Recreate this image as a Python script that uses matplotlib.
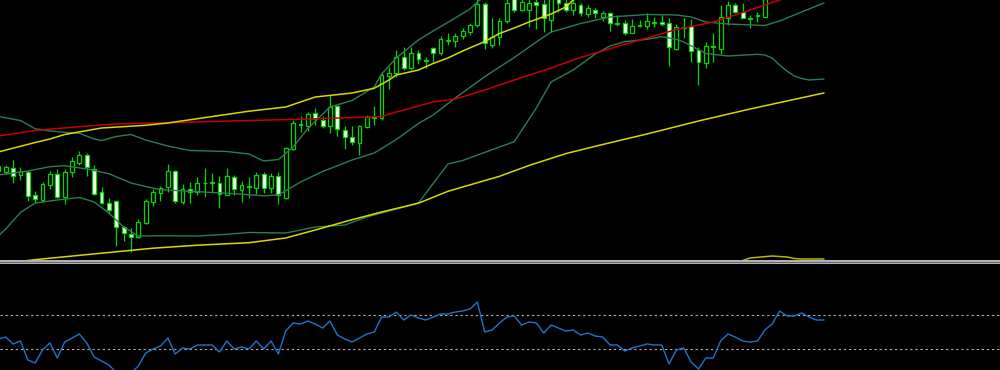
import matplotlib
matplotlib.use("Agg")
import matplotlib.pyplot as plt
from matplotlib.patches import Rectangle
from matplotlib.lines import Line2D

# ---------------- data ----------------
first_bar = -1
opens = [89.5, 88.3, 91.7, 84.7, 88.3, 64.7, 60, 75.3, 86, 63.3, 88.3, 96.7, 105.3, 91.3, 67.7, 57.3,
         59.3, 33.3, 26, 23.3, 36.7, 58.3, 67.3, 72.7, 89.3, 58.3, 71, 67.7, 77.5, 77.3, 76.7, 65,
         83.3, 70, 73.8, 72.3, 85.7, 71.7, 84, 61.7, 110.7, 134.7, 134, 146.7, 140, 134, 154, 130,
         123.3, 117.3, 133.3, 141.7, 141.7, 184, 186.7, 203.3, 191.7, 207.3, 200.5, 211.7, 206.7, 219.3,
         219.3, 224, 228.3, 235, 256, 215, 223.3, 239.3, 262, 250, 250, 258.3, 256, 240,
         264, 256.7, 250, 255, 246, 250, 243.3, 246.7, 237.3, 237.3, 227, 234, 234, 237.3,
         238, 237, 211.5, 232, 234, 210, 197.3, 214, 211.5, 241.7, 255.5, 248, 242.5, 243.8, 243.3]
highs = [100, 95, 100, 93.3, 90, 68.7, 77.7, 88.7, 90.7, 90.7, 102.7, 109, 106.7, 95, 73.3, 62,
         60, 34, 31.7, 40.7, 60.7, 70.7, 74, 96, 90, 76, 78.3, 82.7, 91.7, 86.7, 84, 91.7,
         85.3, 79.3, 83.3, 87.7, 88.3, 86.7, 88.3, 112.7, 140, 144, 148.3, 151.7, 144, 165, 155, 134,
         134, 135, 145, 154.3, 187.3, 193.3, 210, 212.7, 212.7, 210, 203.3, 213.3, 224, 227.3,
         226.7, 231.7, 237.3, 262, 258.3, 241.7, 241.7, 262, 266, 266, 264, 264, 264, 266,
         267, 261, 261, 256.7, 255, 251.7, 249, 248.3, 245, 240, 240.7, 240, 246.7, 243.3,
         245, 241.7, 236, 242.5, 241.2, 213.3, 218.3, 226.7, 255, 258.7, 257, 256.7, 245, 248.3, 265]
lows = [88, 85.7, 77.3, 80, 59.3, 56.7, 58.3, 70.7, 61.7, 56, 82.7, 95, 84.3, 65, 56.7, 46,
        14, 19.3, 8.3, 21.7, 36, 54, 59.3, 68.3, 56.7, 56, 56.7, 65, 63.3, 66.7, 52.3, 65,
        65, 58.3, 61.7, 65.7, 66.7, 66.7, 56, 60.7, 110, 128.3, 129.3, 135, 131.7, 127.3, 124, 110.7,
        115, 105, 131.7, 135, 140, 171, 183.3, 190, 190, 196, 191.7, 198.3, 205, 215,
        213.3, 220.7, 225, 233.3, 210.7, 211.7, 215, 237.3, 248, 249, 233.3, 230.7, 228.3, 228.3,
        248.3, 248.3, 245, 244, 243.3, 241.7, 239.3, 229.3, 234, 225, 226.7, 232.7, 230.7, 232.7,
        234, 194, 210, 222, 198.3, 175.5, 191.7, 198.3, 206.5, 235, 246.7, 241.7, 231.7, 238.3, 242.7]
closes = [94, 92.7, 84, 88.7, 64.3, 60.7, 76, 86, 63.3, 87.7, 98.7, 105.3, 92.7, 66, 57.3, 50,
          33.3, 26.7, 23.5, 38.3, 59.3, 67.7, 72.3, 89, 59, 70.7, 67.7, 76.7, 77, 77.7, 65.7, 84,
          70.7, 74.7, 73, 85, 71.7, 84, 65, 111.7, 136.7, 136.3, 146, 140.7, 134, 153.3, 130.7, 123.3,
          117.7, 134, 142.7, 143.5, 185, 187.3, 202.7, 191.7, 207.3, 200.7, 199.5, 206.7, 221, 220.5,
          224, 229, 235, 256, 217.3, 223.3, 239.3, 256.7, 250, 258, 257.3, 255, 241.7, 263,
          256.7, 250, 256.7, 246.7, 252, 247, 247.3, 237.3, 236, 227, 234, 235.5, 239, 238.5,
          236.5, 213, 232.7, 233.5, 209.3, 198, 214, 213.2, 242.7, 255.5, 248.3, 242.5, 241.5, 244.8, 263]

# moving averages / bands: (bar, value) knots
red_ma_bars = [-1, 4, 11, 15, 22, 33, 40, 44, 51, 53, 58, 61, 65, 69, 74, 78, 83, 87, 91, 96, 100, 105, 111]
red_ma_vals = [124, 129.5, 134, 136, 137.3, 139.5, 140.7, 141.7, 143.5, 148, 158, 161, 170, 180, 192,
               202.5, 213.5, 222, 230.5, 238, 247.5, 260, 272]

fast_ma_bars = [-1, 4, 6, 8, 13, 19, 22, 26, 33, 38, 42, 47, 50, 52, 53, 56, 58, 60, 62, 65, 67, 69,
                71, 74, 76, 77, 79]
fast_ma_vals = [108, 117.5, 121, 125.5, 132, 134.7, 137, 141.3, 148.8, 153, 163, 167, 171.7, 180, 185,
                190, 196.5, 202, 209, 218.5, 226.5, 232, 238, 246, 253, 260, 270]

slow_ma_bars = [-1, 6, 13, 20, 26, 33, 38, 42, 47, 51, 56, 60, 67, 71, 76, 81, 87, 94, 101, 111]
slow_ma_vals = [-3.5, 1.8, 6.8, 11.8, 14.8, 17.3, 22, 30, 40.3, 48, 56.8, 68.7, 83.7, 94.5, 106.4,
                115.5, 126, 139, 151, 167]

low_env_bars = [100, 101, 104, 106, 107, 108, 111]
low_env_vals = [-0.5, 2, 4, 3, 1.5, 1, 1]

bb_mid_bars = [-1, 1, 3, 6, 8, 11, 14, 17, 19, 21, 26, 30, 35, 37, 40, 43, 47, 50, 53, 56, 58, 61,
               65, 67, 69, 72, 74, 78, 82, 87, 91, 93, 95, 98, 103, 105, 107, 109, 111]
bb_mid_vals = [85, 87, 89, 93.3, 94.3, 91, 86.3, 77, 73.5, 70.3, 68.3, 66.8, 64.2, 65, 78, 88.5, 100,
               107, 120.5, 136.5, 145, 162, 183.3, 193, 202.5, 218, 228, 236.5, 243, 245.5, 245,
               243, 238, 236, 234.5, 239, 245, 251, 257]

bb_up_bars = [-1, 2, 4, 6, 8, 10, 12, 13, 15, 17, 19, 22, 25, 30, 33, 35, 37, 39, 41, 44, 47, 50,
              51, 53, 56, 58, 61, 63, 64, 66]
bb_up_vals = [143.5, 139.5, 131.3, 129, 127.7, 126.7, 121, 119.5, 123.5, 125.5, 120, 114, 109.5,
              108.5, 106, 99, 100.5, 113, 131.5, 153, 159.5, 173, 186, 202, 220, 229, 242, 251, 258, 270]

bb_lo_bars = [-1, 0, 2, 4, 7, 10, 12, 14, 16, 18, 21, 26, 30, 33, 38, 42, 46, 49, 56, 60, 62, 67,
              69, 72, 74, 77, 80, 82, 84, 87, 89, 91, 92, 95, 98, 102, 103, 104, 105, 106, 107,
              108, 109, 111]
bb_lo_vals = [24, 31, 47.5, 57, 60, 62.5, 58, 47, 33, 24, 24.2, 24, 25.7, 27.5, 27, 33, 35, 43, 57,
              96, 99.5, 113, 118.3, 152, 178, 190, 206, 214, 218.3, 220.7, 223.3, 220.7, 218, 206.5,
              204, 205.7, 205, 202, 195, 189, 184, 181.5, 180, 181]

# oscillator (one value per bar, from bar -1)
rsi_vals = [41.8, 44.1, 35.9, 39.4, 17.1, 13.5, 28.8, 37.1, 19.4, 38.2, 42.9, 47.6, 37.1, 20.6, 15.9,
            11.2, 2.4, 0.6, 1.8, 10.0, 25.3, 30.0, 33.5, 42.9, 24.1, 31.2, 30.0, 34.7, 34.7, 34.7,
            26.5, 39.4, 30.0, 32.4, 30.0, 39.4, 30.0, 39.4, 24.1, 51.2, 60.6, 59.4, 62.9, 59.4, 54.7,
            62.9, 46.5, 41.8, 38.2, 42.9, 47.6, 50.0, 67.6, 67.6, 73.5, 64.1, 70.0, 66.5, 64.1, 67.6,
            71.2, 71.2, 73.5, 74.7, 77.1, 85.3, 50.0, 52.4, 60.6, 67.6, 68.8, 58.2, 61.8, 60.6, 48.8,
            58.2, 54.7, 51.2, 52.4, 46.5, 48.8, 45.3, 44.1, 34.7, 34.7, 27.6, 31.2, 33.5, 35.9, 34.7,
            34.7, 12.4, 28.8, 31.2, 14.7, 6.5, 19.4, 19.4, 39.4, 47.6, 44.1, 39.4, 38.2, 39.4, 52.4,
            59.4, 74.7, 68.8, 68.8, 72.4, 67.6, 64.1, 64.1]
rsi_levels = [70, 30]

# ---------------- drawing ----------------
W, H = 1000, 370
fig = plt.figure(figsize=(W / 100, H / 100), dpi=100, facecolor="black")

main_top, main_bot = 0, 260
sub_top, sub_bot = 264, 370
px0, pxstep = 5.7, 7.37
xlim = ((0 - px0) / pxstep, (W - px0) / pxstep)

ax = fig.add_axes([0, 1 - main_bot / H, 1, (main_bot - main_top) / H])
ax.set_facecolor("black")
ax.set_xlim(*xlim)
ax.set_ylim(0, 260)
for s in ax.spines.values():
    s.set_visible(False)
ax.set_xticks([]); ax.set_yticks([])

green = "#00d800"
bars = list(range(first_bar, first_bar + len(opens)))
ax.vlines(bars, lows, highs, color=green, lw=0.9, zorder=2)
bottoms = [min(o, c) for o, c in zip(opens, closes)]
heights = [abs(c - o) for o, c in zip(opens, closes)]
fills = ["black" if c >= o else "white" for o, c in zip(opens, closes)]
ax.bar(bars, heights, bottom=bottoms, width=0.52, color=fills, edgecolor=green,
       linewidth=0.9, zorder=3)

band_c = "#2a7f52"
ax.plot(bb_up_bars, bb_up_vals, color=band_c, lw=1.0, zorder=4)
ax.plot(bb_mid_bars, bb_mid_vals, color=band_c, lw=1.0, zorder=4)
ax.plot(bb_lo_bars, bb_lo_vals, color=band_c, lw=1.0, zorder=4)
ax.plot(red_ma_bars, red_ma_vals, color="#c80000", lw=1.1, zorder=5)
ax.plot(fast_ma_bars, fast_ma_vals, color="#d8d800", lw=1.1, zorder=5)
ax.plot(slow_ma_bars, slow_ma_vals, color="#d8d800", lw=1.1, zorder=5)
ax.plot(low_env_bars, low_env_vals, color="#b8b800", lw=1.1, zorder=5)

# separator
fig.add_artist(Rectangle((0, 1 - 263.6 / H), 1, 3.6 / H, transform=fig.transFigure,
                         facecolor="#b0b0b0", edgecolor="none"))
fig.add_artist(Line2D([0, 1], [1 - 261.9 / H] * 2, transform=fig.transFigure,
                      color="#5a5a5a", lw=0.6))

# oscillator panel
ax2 = fig.add_axes([0, 0, 1, (sub_bot - sub_top) / H])
ax2.set_facecolor("black")
ax2.set_xlim(*xlim)
ppu = 34 / 40.0
ax2.set_ylim(30 - (sub_bot - 349) / ppu, 70 + (315 - sub_top) / ppu)
for s in ax2.spines.values():
    s.set_visible(False)
ax2.set_xticks([]); ax2.set_yticks([])
for lv in rsi_levels:
    ax2.axhline(lv, color="#b4b4b4", lw=0.8, linestyle=(0, (2.0, 2.6)))
rsi_bars = list(range(first_bar, first_bar + len(rsi_vals)))
ax2.plot(rsi_bars, rsi_vals, color="#1f74cc", lw=1.0)

fig.savefig("out.png", dpi=100, facecolor="black")
